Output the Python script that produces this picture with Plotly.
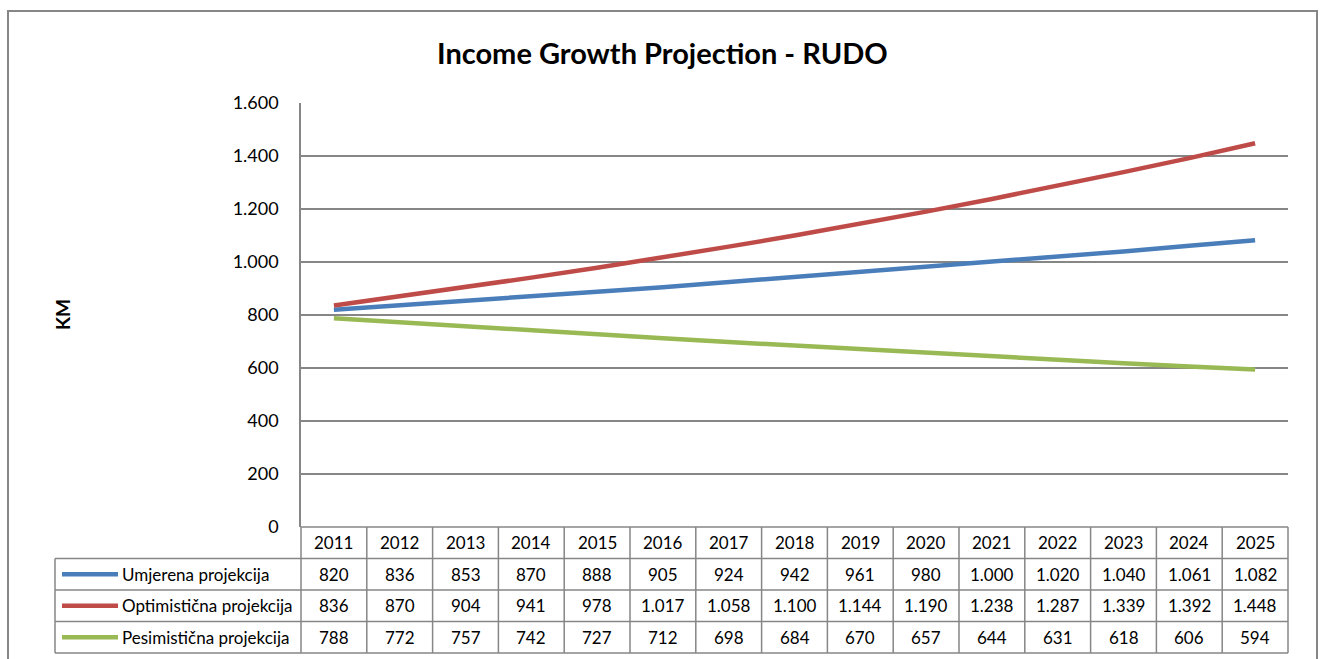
import plotly.graph_objects as go

years = [str(y) for y in range(2011, 2026)]
umjerena = [820, 836, 853, 870, 888, 905, 924, 942, 961, 980, 1000, 1020, 1040, 1061, 1082]
optimisticna = [836, 870, 904, 941, 978, 1017, 1058, 1100, 1144, 1190, 1238, 1287, 1339, 1392, 1448]
pesimisticna = [788, 772, 757, 742, 727, 712, 698, 684, 670, 657, 644, 631, 618, 606, 594]

series_names = ["Umjerena projekcija", "Optimistična projekcija", "Pesimistična projekcija"]
series_values = [umjerena, optimisticna, pesimisticna]
series_colors = ["#4a7ebb", "#be4b48", "#98b954"]

W, H = 1321, 659
L, R, T, B = 301, 1288, 103, 527
GRAY = "#868686"
FONT = "Lato"


def px(x):
    return (x - L) / (R - L)


def py(y):
    return (B - y) / (B - T)


def fmt(v):
    return f"{v:,}".replace(",", ".")


fig = go.Figure()
for name, vals, col in zip(series_names, series_values, series_colors):
    fig.add_trace(go.Scatter(x=years, y=vals, mode="lines", name=name,
                             line=dict(color=col, width=4.5), showlegend=False))

shapes = []
annotations = []

# outer chart border
shapes.append(dict(type="rect", xref="paper", yref="paper", x0=px(8), x1=px(1317),
                   y0=py(700), y1=py(11), line=dict(color=GRAY, width=2), layer="below"))

# table geometry
row_edges = [527, 558.5, 590, 621.5, 653]
n = len(years)
leg_left = 55
shapes.append(dict(type="line", xref="paper", yref="paper", x0=0, x1=1,
                   y0=py(row_edges[0]), y1=py(row_edges[0]), line=dict(color=GRAY, width=1.5)))
for ry in row_edges[1:]:
    shapes.append(dict(type="line", xref="paper", yref="paper", x0=px(leg_left), x1=1,
                       y0=py(ry), y1=py(ry), line=dict(color=GRAY, width=1.5)))
for i in range(n + 1):
    shapes.append(dict(type="line", xref="paper", yref="paper", x0=i / n, x1=i / n,
                       y0=py(row_edges[0]), y1=py(row_edges[-1]), line=dict(color=GRAY, width=1.5)))
shapes.append(dict(type="line", xref="paper", yref="paper", x0=px(leg_left), x1=px(leg_left),
                   y0=py(row_edges[1]), y1=py(row_edges[-1]), line=dict(color=GRAY, width=1.5)))

CELL_FONT = dict(family=FONT, size=17, color="#000000")

# header row years (column centres from the category axis)
hdr_y = (row_edges[0] + row_edges[1]) / 2
for i, yr in enumerate(years):
    annotations.append(dict(x=i, xref="x", y=py(hdr_y), yref="paper", text=yr, showarrow=False,
                            font=CELL_FONT, xanchor="center", yanchor="middle"))

# data rows
for r, (name, vals, col) in enumerate(zip(series_names, series_values, series_colors)):
    cy = (row_edges[r + 1] + row_edges[r + 2]) / 2
    for i, v in enumerate(vals):
        annotations.append(dict(x=i, xref="x", y=py(cy), yref="paper", text=fmt(v), showarrow=False,
                                font=CELL_FONT, xanchor="center", yanchor="middle"))
    shapes.append(dict(type="line", xref="paper", yref="paper", x0=px(62), x1=px(118),
                       y0=py(cy), y1=py(cy), line=dict(color=col, width=4.5)))
    annotations.append(dict(x=px(120), xref="paper", y=py(cy), yref="paper", text=name, showarrow=False,
                            font=CELL_FONT, xanchor="left", yanchor="middle"))

# title
annotations.append(dict(x=px(662), xref="paper", y=py(52), yref="paper",
                        text="<b>Income Growth Projection - RUDO</b>", showarrow=False,
                        font=dict(family=FONT, size=29, color="#000000"),
                        xanchor="center", yanchor="middle"))
# y title
annotations.append(dict(x=px(62), xref="paper", y=py(315), yref="paper",
                        text="<b>KM</b>", showarrow=False, textangle=-90,
                        font=dict(family=FONT, size=19, color="#000000"),
                        xanchor="center", yanchor="middle"))

fig.update_layout(
    width=W, height=H,
    margin=dict(l=L, r=W - R, t=T, b=H - B, pad=0),
    paper_bgcolor="white", plot_bgcolor="white",
    separators=",.",
    shapes=shapes, annotations=annotations,
    xaxis=dict(type="category", range=[-0.5, n - 0.5], showticklabels=False, showgrid=False,
               zeroline=False, showline=False, ticks=""),
    yaxis=dict(range=[0, 1600], dtick=200, tickformat=",d", showgrid=True, gridcolor=GRAY, gridwidth=1.5,
               zeroline=False, showline=True, linecolor=GRAY, linewidth=1.5,
               ticks="outside", ticklen=17, tickcolor="rgba(0,0,0,0)",
               tickfont=dict(family=FONT, size=18, color="#000000")),
)

fig.write_html("out.html")
